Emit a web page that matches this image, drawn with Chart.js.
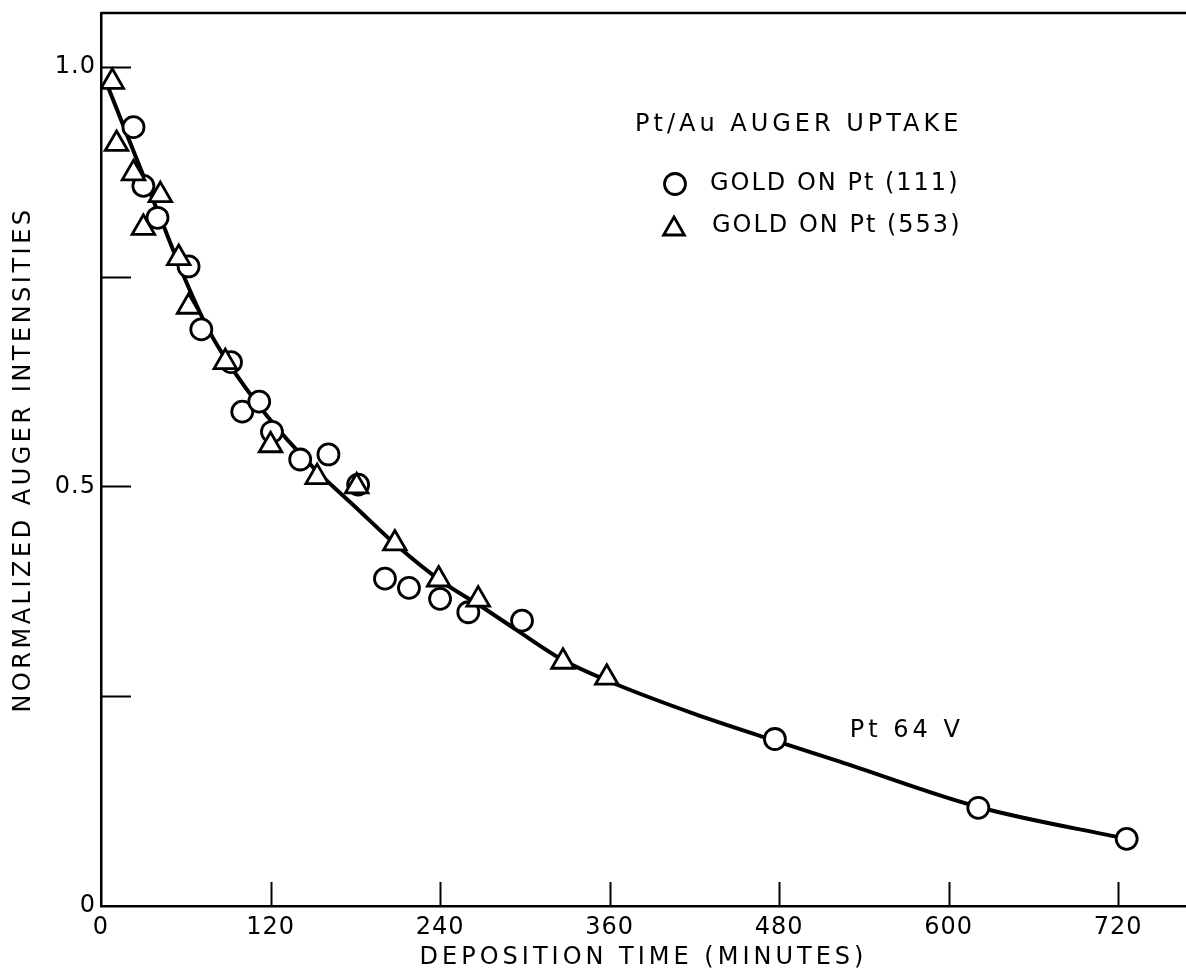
<!DOCTYPE html>
<html>
<head>
<meta charset="utf-8">
<title>Pt/Au Auger uptake</title>
<script src="https://cdn.jsdelivr.net/npm/chart.js"></script>
<style>
  html, body { margin: 0; padding: 0; background: #fff; overflow: hidden; }
  canvas { display: block; }
</style>
</head>
<body>
<canvas id="augerChart" width="1186" height="974"></canvas>
<script>
// values (minutes, normalized intensity)
let circleTime  = [23, 30, 40, 62, 71, 92, 100, 112, 121, 141, 161, 182, 201, 218, 240, 260, 298, 477, 621, 726];
let circleValue = [0.928, 0.858, 0.82, 0.762, 0.687, 0.648, 0.589, 0.601, 0.565, 0.532, 0.538, 0.502,
                   0.39, 0.379, 0.366, 0.35, 0.34, 0.199, 0.117, 0.08];

let triangleTime  = [8, 11, 23, 30, 42, 55, 62, 88, 120, 153, 181, 208, 239, 267, 327, 358];
let triangleValue = [0.982, 0.908, 0.873, 0.808, 0.847, 0.772, 0.714, 0.648, 0.549, 0.511, 0.5,
                     0.432, 0.389, 0.365, 0.291, 0.272];

// the drawn fit curve
let curveTime  = [4, 20, 42, 60, 75, 89, 117, 150, 181, 209, 240, 270, 294, 327, 362, 420, 477, 523, 621, 726];
let curveValue = [0.98, 0.912, 0.82, 0.745, 0.69, 0.65, 0.585, 0.523, 0.474, 0.43, 0.388, 0.356, 0.329,
                  0.293, 0.266, 0.229, 0.197, 0.172, 0.118, 0.08];

let xTicks = [0, 120, 240, 360, 480, 600, 720];
let yTicks = [0, 0.25, 0.5, 0.75, 1.0];
let yTickLabels = ['0', '', '0.5', '', '1.0'];

let legendTitle = 'Pt/Au AUGER UPTAKE';
let circleLabel = 'GOLD ON Pt (111)';
let triangleLabel = 'GOLD ON Pt (553)';
let curveLabel = 'Pt 64 V';
let xTitle = 'DEPOSITION TIME (MINUTES)';
let yTitle = 'NORMALIZED AUGER INTENSITIES';

const FONT = '"DejaVu Sans", sans-serif';

function toPoints(xs, ys) {
    return xs.map((x, i) => ({ x: x, y: ys[i] }));
}

function drawCircle(ctx, x, y, r) {
    ctx.beginPath();
    ctx.arc(x, y, r, 0, Math.PI * 2);
    ctx.fill();
    ctx.stroke();
}

function drawTriangle(ctx, x, y, r) {
    ctx.beginPath();
    for (let k = 0; k < 3; k++) {
        let a = k * 2 * Math.PI / 3;
        let px = x + Math.sin(a) * r, py = y - Math.cos(a) * r;
        if (k == 0) ctx.moveTo(px, py); else ctx.lineTo(px, py);
    }
    ctx.closePath();
    ctx.fill();
    ctx.stroke();
}

// no extra label padding, so the plot box sits where the paper's does
function noPad(s) {
    s.paddingLeft = 0; s.paddingRight = 0;
    s.paddingTop = 0; s.paddingBottom = 0;
}

// frame top, inward tick marks, titles and the legend
const paperMarks = {
    id: 'paperMarks',
    beforeDraw(chart) {
        chart.ctx.letterSpacing = '1px';
    },
    afterDraw(chart) {
        const ctx = chart.ctx;
        const a = chart.chartArea;
        const xs = chart.scales.x, ys = chart.scales.y;
        ctx.save();
        ctx.strokeStyle = '#000';
        ctx.fillStyle = '#000';

        ctx.lineWidth = 2.5;
        ctx.beginPath();
        ctx.moveTo(a.left, a.top);
        ctx.lineTo(a.right, a.top);
        ctx.stroke();

        ctx.lineWidth = 2;
        ctx.beginPath();
        xTicks.slice(1).forEach(v => {
            let px = Math.round(xs.getPixelForValue(v)) + 0.5;
            ctx.moveTo(px, a.bottom);
            ctx.lineTo(px, a.bottom - 24);
        });
        yTicks.slice(1).forEach(v => {
            let py = Math.round(ys.getPixelForValue(v)) + 0.5;
            ctx.moveTo(a.left, py);
            ctx.lineTo(a.left + 30, py);
        });
        ctx.stroke();

        // axis titles
        ctx.font = '24px ' + FONT;
        ctx.textBaseline = 'middle';
        ctx.textAlign = 'center';
        ctx.letterSpacing = '4px';
        ctx.fillText(xTitle, (a.left + a.right) / 2, 958);
        ctx.save();
        ctx.translate(24, (a.top + a.bottom) / 2);
        ctx.rotate(-Math.PI / 2);
        ctx.letterSpacing = '3.5px';
        ctx.fillText(yTitle, 0, 0);
        ctx.restore();

        // legend
        ctx.textAlign = 'left';
        ctx.font = '24px ' + FONT;
        ctx.letterSpacing = '4px';
        ctx.fillText(legendTitle, 635, 125);
        ctx.letterSpacing = '2px';
        ctx.fillText(circleLabel, 710, 184);
        ctx.fillText(triangleLabel, 712, 226);
        ctx.letterSpacing = '4px';
        ctx.fillText(curveLabel, xs.getPixelForValue(530), ys.getPixelForValue(0.209));

        ctx.fillStyle = '#fff';
        ctx.lineWidth = 2.8;
        drawCircle(ctx, 675, 184, 10.5);
        drawTriangle(ctx, 674, 229, 12);
        ctx.restore();
        ctx.letterSpacing = '0px';
    }
};

new Chart(document.getElementById('augerChart'), {
    type: 'scatter',
    data: {
        datasets: [
            {
                label: triangleLabel,
                data: toPoints(triangleTime, triangleValue),
                pointStyle: 'triangle',
                pointRadius: 13,
                pointBorderWidth: 2.8,
                pointBackgroundColor: '#fff',
                pointBorderColor: '#000',
                order: 1
            },
            {
                label: circleLabel,
                data: toPoints(circleTime, circleValue),
                pointStyle: 'circle',
                pointRadius: 10.5,
                pointBorderWidth: 2.8,
                pointBackgroundColor: '#fff',
                pointBorderColor: '#000',
                order: 2
            },
            {
                label: curveLabel,
                type: 'line',
                data: toPoints(curveTime, curveValue),
                borderColor: '#000',
                borderWidth: 4,
                pointRadius: 0,
                fill: false,
                cubicInterpolationMode: 'monotone',
                order: 3
            }
        ]
    },
    options: {
        responsive: false,
        animation: false,
        layout: { autoPadding: false, padding: { top: 13, right: 0, bottom: 0, left: 0 } },
        plugins: {
            legend: { display: false },
            tooltip: { enabled: false }
        },
        scales: {
            x: {
                type: 'linear',
                min: 0,
                max: 768,
                afterBuildTicks: s => { s.ticks = xTicks.map(v => ({ value: v })); },
                afterFit: s => { s.height = 68; noPad(s); },
                grid: { display: false, drawTicks: false },
                border: { display: true, color: '#000', width: 2.5 },
                ticks: {
                    color: '#000',
                    padding: 7,
                    maxRotation: 0,
                    font: { family: FONT, size: 24 }
                }
            },
            y: {
                type: 'linear',
                min: 0,
                max: 1.064,
                afterBuildTicks: s => { s.ticks = yTicks.map(v => ({ value: v })); },
                afterFit: s => { s.width = 101; noPad(s); },
                grid: { display: false, drawTicks: false },
                border: { display: true, color: '#000', width: 2.5 },
                ticks: {
                    color: '#000',
                    padding: 5,
                    font: { family: FONT, size: 24 },
                    callback: (v, i) => yTickLabels[i]
                }
            }
        }
    },
    plugins: [paperMarks]
});
</script>
</body>
</html>
